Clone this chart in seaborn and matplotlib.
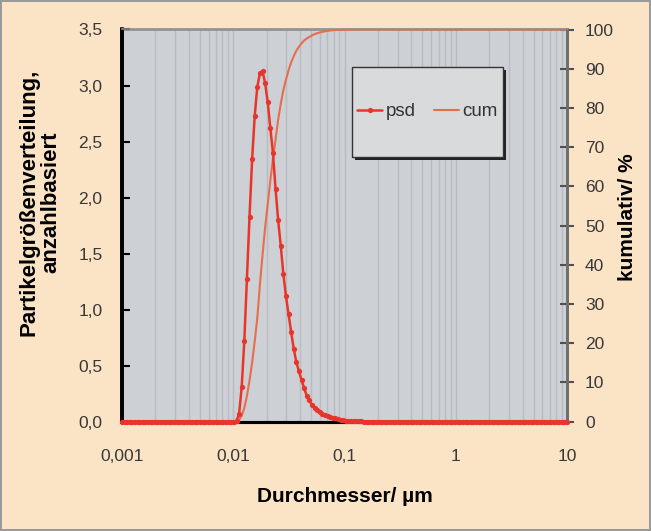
import numpy as np
import pandas as pd
import matplotlib
matplotlib.use("Agg")
import matplotlib.pyplot as plt
from matplotlib.patches import Rectangle
from matplotlib.ticker import FixedLocator, FuncFormatter, NullFormatter, LogLocator
import seaborn as sns

# ---------------- data ----------------
# logarithmic size-class grid of the analyser (0.001 ... 10 µm, 172 classes)
diameter_um = np.geomspace(0.001, 10, 172)

psd_peak = [0.01, 0.07, 0.31, 0.72, 1.27, 1.83, 2.34, 2.73, 2.99, 3.11,
            3.13, 3.02, 2.85, 2.62, 2.40, 2.08, 1.80, 1.57, 1.32, 1.12,
            0.96, 0.80, 0.65, 0.53, 0.45, 0.37, 0.30, 0.23, 0.19, 0.15,
            0.12, 0.10, 0.085, 0.07, 0.06, 0.05, 0.04, 0.035, 0.03, 0.02,
            0.016, 0.013, 0.01, 0.008, 0.006, 0.005, 0.004, 0.003, 0.002, 0.001]
psd = [0.0] * 44 + psd_peak + [0.0] * 78

cum_rise = [0.5, 1.5, 3.5, 6.5, 10.5, 15, 20.5, 26.5, 35, 42.5,
            49.5, 55.5, 61.5, 67, 72, 77, 81, 84.5, 87.2, 89.6,
            91.6, 93.2, 94.6, 95.6, 96.5, 97.2, 97.7, 98.1, 98.5, 98.8,
            99.05, 99.25, 99.4, 99.55, 99.65, 99.75, 99.82, 99.88, 99.92, 99.95,
            99.97, 99.98, 99.99]
cum = [0.0] * 45 + cum_rise + [100.0] * 84

x_ticks = [0.001, 0.01, 0.1, 1, 10]
x_ticklabels = ["0,001", "0,01", "0,1", "1", "10"]
y_left_ticks = [0.0, 0.5, 1.0, 1.5, 2.0, 2.5, 3.0, 3.5]
y_right_ticks = [0, 10, 20, 30, 40, 50, 60, 70, 80, 90, 100]

df = pd.DataFrame({"d": diameter_um, "psd": psd, "cum": cum})

# ---------------- style ----------------
sns.set_theme(style="white")
plt.rcParams["font.family"] = ["Liberation Sans", "DejaVu Sans"]

PEACH = "#FBE3C6"
AXGRAY = "#CDD0D4"
GRIDCOL = "#B8BCC1"
RED = "#E8352B"
CUMCOL = "#E66E50"
TICKCOL = "#383838"

fig = plt.figure(figsize=(6.51, 5.31), dpi=100)
fig.patch.set_facecolor(PEACH)
fig.patch.set_edgecolor("#9A9A9A")
fig.patch.set_linewidth(1.5)

W, H = 651, 531
left, right, top, bottom = 122, 567, 29.5, 421.7
ax = fig.add_axes([left / W, 1 - bottom / H, (right - left) / W, (bottom - top) / H])
ax2 = ax.twinx()

ax.set_xscale("log")
ax.set_xlim(0.001, 10)
ax.set_ylim(0, 3.5)
ax2.set_ylim(0, 100)

# cumulative curve
sns.lineplot(data=df, x="d", y="cum", ax=ax2, color=CUMCOL, linewidth=1.5,
             label="cum", sort=False, clip_on=False, zorder=3)
# psd curve with markers
sns.lineplot(data=df, x="d", y="psd", ax=ax, color=RED, linewidth=1.8,
             marker="o", markersize=3.8, markeredgewidth=0, label="psd",
             sort=False, clip_on=False, zorder=4)

for a in (ax, ax2):
    if a.get_legend() is not None:
        a.get_legend().remove()

# layering: gray background + grid on ax2 (bottom), psd axis on top, transparent
ax2.set_zorder(0)
ax.set_zorder(1)
ax.patch.set_visible(False)
ax2.set_facecolor(AXGRAY)
ax2.patch.set_visible(True)

# ticks (x axis shared by both axes)
ax.xaxis.set_major_locator(FixedLocator(x_ticks))
ax.xaxis.set_minor_locator(LogLocator(base=10, subs=np.arange(2, 10)))
ax.set_xticklabels(x_ticklabels)
ax.xaxis.set_minor_formatter(NullFormatter())
ax.tick_params(axis="x", which="major", direction="in", length=5, width=1.5,
               color="black", pad=20, labelsize=12.5, labelcolor=TICKCOL, top=False)
ax.tick_params(axis="x", which="minor", length=0)
ax.grid(False, which="both")

ax2.xaxis.set_visible(True)
ax2.set_xlabel("")
ax2.tick_params(axis="x", which="both", length=0, labelbottom=False, labeltop=False)
ax2.grid(True, which="both", axis="x", color=GRIDCOL, linewidth=1.0)
ax2.grid(False, axis="y", which="both")
ax2.set_axisbelow(True)

ax.yaxis.set_major_locator(FixedLocator(y_left_ticks))
ax.yaxis.set_major_formatter(FuncFormatter(lambda v, p: f"{v:.1f}".replace(".", ",")))
ax.tick_params(axis="y", which="major", direction="in", length=6, width=1.5,
               color="black", pad=14, labelsize=12.5, labelcolor=TICKCOL,
               left=True, right=False)

ax2.yaxis.set_major_locator(FixedLocator(y_right_ticks))
ax2.yaxis.set_major_formatter(FuncFormatter(lambda v, p: f"{int(v)}"))
ax2.tick_params(axis="y", which="major", direction="inout", length=10, width=1.5,
                color="#505050", pad=8, labelsize=12.5, labelcolor=TICKCOL)

# spines
for a in (ax, ax2):
    a.spines["left"].set_color("black"); a.spines["left"].set_linewidth(2.6)
    a.spines["bottom"].set_color("black"); a.spines["bottom"].set_linewidth(2.2)
    a.spines["right"].set_color("#6E6E6E"); a.spines["right"].set_linewidth(2.0)
    a.spines["top"].set_color("#909090"); a.spines["top"].set_linewidth(1.2)
ax.spines["bottom"].set_zorder(0.5)

# labels
ax.set_xlabel("Durchmesser/ µm", fontsize=15, fontweight="bold", color="black")
ax.xaxis.set_label_coords(0.5, (bottom - 497) / (bottom - top))
ax.xaxis.label.set_va("center")

ax.set_ylabel("Partikelgrößenverteilung,\nanzahlbasiert", fontsize=16,
              fontweight="bold", color="black", linespacing=1.05)
ax.yaxis.set_label_coords((40 - left) / (right - left), (bottom - 202) / (bottom - top))
ax.yaxis.label.set_va("center")
ax.yaxis.label.set_ha("center")

ax2.set_ylabel("kumulativ/ %", fontsize=15, fontweight="bold", color="black")
ax2.yaxis.set_label_coords((627 - left) / (right - left), (bottom - 217) / (bottom - top))
ax2.yaxis.label.set_va("center")
ax2.yaxis.label.set_ha("center")
ax2.yaxis.label.set_rotation(90)

# legend box with shadow
bx0, bx1, by0, by1 = 351.7, 503, 66.7, 156.7
shadow = Rectangle(((bx0 + 3) / W, 1 - (by1 + 3) / H), (bx1 - bx0) / W, (by1 - by0) / H,
                   transform=fig.transFigure, facecolor="#222222", edgecolor="none", zorder=5)
box = Rectangle((bx0 / W, 1 - by1 / H), (bx1 - bx0) / W, (by1 - by0) / H,
                transform=fig.transFigure, facecolor="#D9DADC", edgecolor="#333333",
                linewidth=1.0, zorder=6)
fig.patches.extend([shadow, box])

h1, l1 = ax.get_legend_handles_labels()
h2, l2 = ax2.get_legend_handles_labels()
leg = fig.legend(h1 + h2, l1 + l2, loc="center",
                 bbox_to_anchor=(427.5 / W, 1 - 111.7 / H), ncol=2, frameon=False,
                 fontsize=13.5, handlelength=1.3, handletextpad=0.2, columnspacing=1.0,
                 labelcolor="#333333")
leg.set_zorder(7)

fig.savefig("out.png", dpi=100, facecolor=PEACH, edgecolor="#9A9A9A")
